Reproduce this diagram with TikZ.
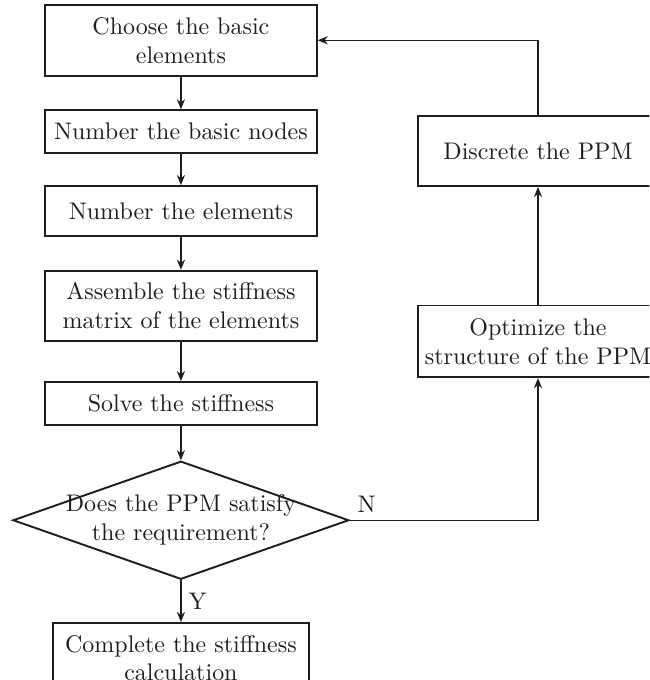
\documentclass[tikz,border=0pt]{standalone}
\usepackage{xcolor}
\usetikzlibrary{shapes.geometric,arrows.meta}
\definecolor{flowink}{HTML}{1E1E1E}
\newcommand{\pictureframe}{(0,0) rectangle (9.51,-9.96)}

\begin{document}
\begin{tikzpicture}[x=1cm, y=1cm, every node/.style={font=\normalsize, text=flowink},
  procbox/.style={draw=flowink, line width=0.8pt, align=center, minimum width=3.98cm, inner sep=2pt},
  sidebox/.style={procbox, minimum width=3.52cm, minimum height=1.03cm},
  decision/.style={draw=flowink, line width=0.8pt, diamond, minimum width=4.92cm, minimum height=1.73cm, inner sep=0pt},
  flowarrow/.style={draw=flowink, line width=0.5pt, -{Stealth[length=4.2pt, width=3.4pt]}}]

  \useasboundingbox \pictureframe;
  \clip \pictureframe;

  %% Main column
  \node[procbox, minimum height=1.04cm] (choose) at (2.65,-0.59) {Choose the basic\\elements};
  \node[procbox, minimum height=0.63cm] (numnodes) at (2.65,-1.93) {Number the basic nodes};
  \node[procbox, minimum height=0.73cm] (numelems) at (2.65,-3.09) {Number the elements};
  \node[procbox, minimum height=1.03cm] (assemble) at (2.65,-4.48) {Assemble the stiffness\\matrix of the elements};
  \node[procbox, minimum height=0.63cm] (solve) at (2.65,-5.91) {Solve the stiffness};
  \node[decision] (check) at (2.65,-7.62) {};
  \node[align=center] (checktext) at (check) {Does the PPM satisfy\\the requirement?};
  \node[procbox, minimum width=3.75cm, minimum height=1.03cm] (complete) at (2.65,-9.64) {Complete the stiffness\\calculation};

  %% Feedback column
  \node[sidebox] (discrete) at (7.88,-2.21) {Discrete the PPM};
  \node[sidebox, minimum height=1.05cm] (optimize) at (7.88,-5.0) {Optimize the\\structure of the PPM};

  %% Connectors
  \draw[flowarrow] (choose) -- (numnodes);
  \draw[flowarrow] (numnodes) -- (numelems);
  \draw[flowarrow] (numelems) -- (assemble);
  \draw[flowarrow] (assemble) -- (solve);
  \draw[flowarrow] (solve) -- (check.north);
  \draw[flowarrow] (check.south) -- node[right, inner sep=3pt] (ylabel) {Y} (complete);
  \draw[flowarrow] (check.east) -| (optimize.south);
  \node[anchor=south west, inner sep=3pt] (nlabel) at (check.east) {N};
  \draw[flowarrow] (optimize) -- (discrete);
  \draw[flowarrow] (discrete.north) |- (choose.east);

\end{tikzpicture}
\end{document}
